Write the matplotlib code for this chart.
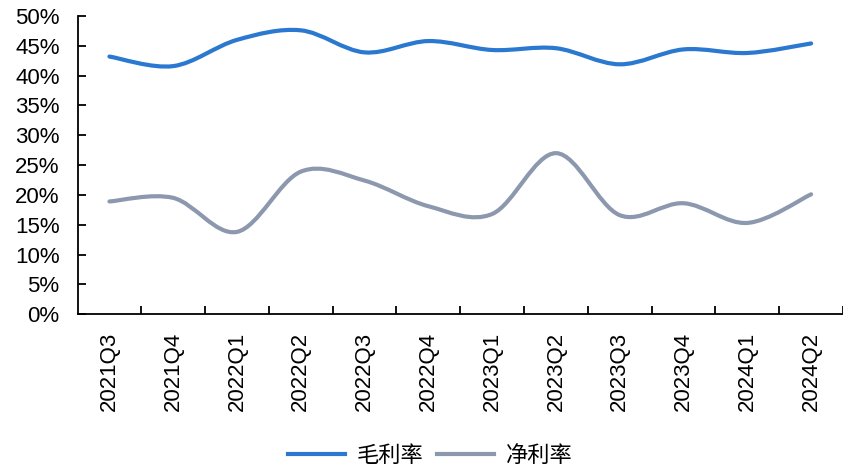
import numpy as np
import matplotlib
matplotlib.use("Agg")
import matplotlib.pyplot as plt
from matplotlib.path import Path
from matplotlib.patches import PathPatch
from matplotlib.lines import Line2D

quarters = ["2021Q3", "2021Q4", "2022Q1", "2022Q2", "2022Q3", "2022Q4",
            "2023Q1", "2023Q2", "2023Q3", "2023Q4", "2024Q1", "2024Q2"]
gross_margin = [43.2, 41.6, 46.0, 47.6, 43.9, 45.8, 44.3, 44.6, 41.9, 44.4, 43.8, 45.4]
net_margin = [18.9, 19.5, 13.8, 23.9, 22.4, 18.1, 16.8, 27.0, 16.6, 18.6, 15.3, 20.1]

BLUE = "#2b78d0"
GRAY = "#8c98ae"


def smooth_path(xs, ys):
    # Excel-like smoothed line: cubic bezier through each point
    pts = np.column_stack([xs, ys]).astype(float)
    n = len(pts)
    verts = [pts[0]]
    codes = [Path.MOVETO]
    for i in range(n - 1):
        p0 = pts[i - 1] if i > 0 else pts[i]
        p1 = pts[i]
        p2 = pts[i + 1]
        p3 = pts[i + 2] if i + 2 < n else pts[i + 1]
        c1 = p1 + (p2 - p0) / 6.0
        c2 = p2 - (p3 - p1) / 6.0
        verts += [c1, c2, p2]
        codes += [Path.CURVE4] * 3
    return Path(verts, codes)


plt.rcParams['font.family'] = ['Liberation Sans', 'Noto Sans CJK SC', 'DejaVu Sans']

fig = plt.figure(figsize=(8.43, 4.71), dpi=100)
ax = fig.add_axes([0.092, 0.333, 0.908, 0.633])

x = np.arange(len(quarters))
ax.add_patch(PathPatch(smooth_path(x, gross_margin), fill=False,
                       edgecolor=BLUE, lw=3, capstyle='round'))
ax.add_patch(PathPatch(smooth_path(x, net_margin), fill=False,
                       edgecolor=GRAY, lw=3, capstyle='round'))

ax.set_xlim(-0.5, len(quarters) - 0.5)
ax.set_ylim(0, 50)
ax.set_yticks(range(0, 51, 5))
ax.set_yticklabels([f"{v}%" for v in range(0, 51, 5)])
ax.set_xticks(x)
ax.set_xticklabels(quarters, rotation=90)
ax.set_xticks(np.arange(0.5, len(quarters), 1), minor=True)

ax.tick_params(axis='y', direction='in', length=6, width=1.3, pad=13,
               labelsize=16, colors='black')
ax.tick_params(axis='x', which='major', length=0, pad=13, labelsize=16)
ax.tick_params(axis='x', which='minor', direction='in', length=6, width=1.3)

for s in ['top', 'right']:
    ax.spines[s].set_visible(False)
for s in ['left', 'bottom']:
    ax.spines[s].set_linewidth(1.3)

handles = [Line2D([], [], color=BLUE, lw=3), Line2D([], [], color=GRAY, lw=3)]
fig.legend(handles, ["毛利率", "净利率"], loc='center', bbox_to_anchor=(0.51, 0.034),
           ncol=2, frameon=False, fontsize=16, handlelength=2.6,
           columnspacing=0.6, handletextpad=0.5,
           prop={'family': ['Noto Sans CJK SC', 'DejaVu Sans'], 'size': 16})

fig.savefig("out.png", dpi=100)
